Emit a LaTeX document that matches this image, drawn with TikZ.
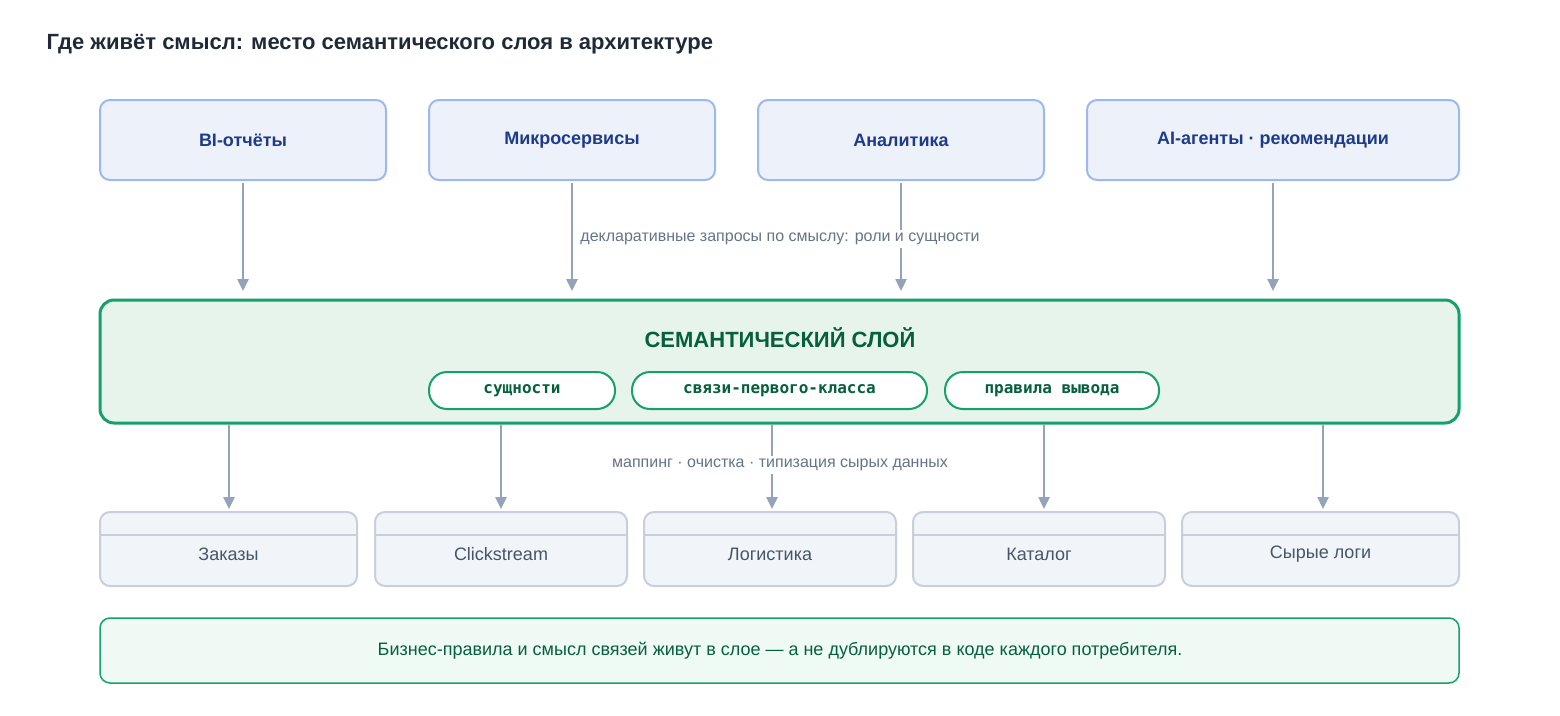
\documentclass[tikz,border=0pt]{standalone}
\usepackage{fontspec}
\setmainfont{Liberation Sans}
\setmonofont{DejaVu Sans Mono}
\usetikzlibrary{arrows.meta}
\definecolor{titlec}{HTML}{1F2937}
\definecolor{topfill}{HTML}{EDF2FA}
\definecolor{topdraw}{HTML}{9BB8F2}
\definecolor{toptext}{HTML}{1E3A8A}
\definecolor{arr}{HTML}{94A3B8}
\definecolor{lbl}{HTML}{64748B}
\definecolor{semfill}{HTML}{E6F4EC}
\definecolor{semdraw}{HTML}{16A06A}
\definecolor{semtext}{HTML}{065F3D}
\definecolor{srcfill}{HTML}{F1F4F8}
\definecolor{srcdraw}{HTML}{C8CFDA}
\definecolor{srctext}{HTML}{475569}
\definecolor{notefill}{HTML}{EFFAF4}
\begin{document}
\begin{tikzpicture}[x=1pt,y=-1pt,
  top/.style={draw=topdraw,line width=2pt,fill=topfill,rounded corners=10pt},
  toptxt/.style={font=\fontsize{18}{20}\selectfont\bfseries,text=toptext},
  arrow/.style={draw=arr,line width=2.5pt,-{Triangle[length=12pt,width=11pt]}},
  plain/.style={draw=arr,line width=2.5pt},
  lab/.style={font=\fontsize{16}{18}\selectfont,text=lbl,fill=white,inner sep=3pt},
  pill/.style={draw=semdraw,line width=2pt,fill=white,rounded corners=18pt},
  pilltxt/.style={font=\fontsize{16}{18}\selectfont\ttfamily\bfseries,text=semtext},
  src/.style={draw=srcdraw,line width=2pt,fill=srcfill,rounded corners=10pt},
  srctxt/.style={font=\fontsize{18}{20}\selectfont,text=srctext}]
\useasboundingbox (0,0) rectangle (1560,715);
\node[anchor=west,font=\fontsize{22}{24}\selectfont\bfseries,text=titlec] (title) at (43,44) {Где живёт смысл: место семантического слоя в архитектуре};
% top boxes
\draw[top] (100,100) rectangle (386,180); \node[toptxt] (t1) at (243,140) {BI-отчёты};
\draw[top] (429,100) rectangle (715,180); \node[toptxt] (t2) at (572,140) {Микросервисы};
\draw[top] (758,100) rectangle (1044,180); \node[toptxt] (t3) at (901,140) {Аналитика};
\draw[top] (1087,100) rectangle (1459,180); \node[toptxt] (t4) at (1273,140) {AI-агенты · рекомендации};
\coordinate (a1) at (243,183); \coordinate (b1) at (243,291);
\coordinate (a2) at (572,183); \coordinate (b2) at (572,291);
\coordinate (a3) at (901,183); \coordinate (b3) at (901,291);
\coordinate (a4) at (1273,183); \coordinate (b4) at (1273,291);
\draw[arrow] (a1)--(b1);
\draw[arrow] (a2)--(b2);
\draw[arrow] (a3)--(b3);
\draw[arrow] (a4)--(b4);
\node[lab] (ql) at (780,239) {декларативные запросы по смыслу: роли и сущности};
% semantic layer
\draw[draw=semdraw,line width=3pt,fill=semfill,rounded corners=14pt] (100,300) rectangle (1459,423);
\node[font=\fontsize{22}{24}\selectfont\bfseries,text=semtext] (sem) at (780,338) {СЕМАНТИЧЕСКИЙ СЛОЙ};
\draw[pill] (429,372) rectangle (615,409); \node[pilltxt] (p1) at (522,390.5) {сущности};
\draw[pill] (632,372) rectangle (927,409); \node[pilltxt] (p2) at (779.5,390.5) {связи-первого-класса};
\draw[pill] (945,372) rectangle (1159,409); \node[pilltxt] (p3) at (1052,390.5) {правила вывода};
% lower arrows
\foreach \x/\n in {229/1,501/2,772/3,1044/4,1323/5}{
  \coordinate (c\n) at (\x,425); \coordinate (d\n) at (\x,509);
  \draw[arrow] (c\n)--(d\n);}
\node[lab] (ml) at (780,465) {маппинг · очистка · типизация сырых данных};
% sources
\foreach \xa/\xb/\t/\n in {100/357/Заказы/1,375/627/Clickstream/2,644/896/Логистика/3,913/1165/Каталог/4,1182/1459/Сырые логи/5}{
  \draw[src] (\xa,512) rectangle (\xb,586);
  \draw[draw=srcdraw,line width=1.2pt] (\xa+1,535) -- (\xb-1,535);
  \node[srctxt] (s\n) at ({(\xa+\xb)/2},554) {\t};}
% note
\draw[draw=semdraw,line width=1.5pt,fill=notefill,rounded corners=10pt] (100,618) rectangle (1459,683);
\node[font=\fontsize{18}{20}\selectfont,text=semtext] (note) at (780,651) {Бизнес-правила и смысл связей живут в слое — а не дублируются в коде каждого потребителя.};
\end{tikzpicture}
\end{document}
